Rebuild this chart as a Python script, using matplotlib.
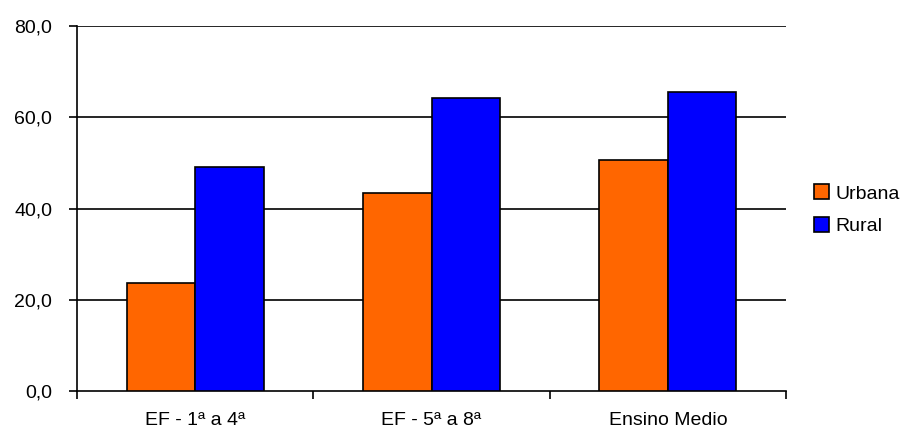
import numpy as np
import matplotlib.pyplot as plt
from matplotlib.ticker import FixedLocator, FuncFormatter

plt.rcParams['font.family'] = ['Liberation Sans', 'DejaVu Sans']

categories = ['EF - 1ª a 4ª', 'EF - 5ª a 8ª', 'Ensino Medio']
urbana = [23.6, 43.3, 50.7]
rural = [49.0, 64.3, 65.5]
yticks = [0, 20, 40, 60, 80]

fig = plt.figure(figsize=(9.02, 4.30), dpi=100)
ax = fig.add_axes([0.0854, 0.0907, 0.786, 0.8488])

x = np.arange(len(categories))
w = 0.29
ax.bar(x - w/2, urbana, w, color='#ff6600', edgecolor='black', linewidth=1.2,
       label='Urbana', zorder=3)
ax.bar(x + w/2, rural, w, color='#0000ff', edgecolor='black', linewidth=1.2,
       label='Rural', zorder=3)

ax.set_xlim(-0.5, len(categories) - 0.5)
ax.set_ylim(0, 80)
ax.set_yticks(yticks)
ax.yaxis.set_major_formatter(FuncFormatter(lambda v, p: f'{v:.1f}'.replace('.', ',')))
for v in yticks[1:]:
    ax.axhline(v, color='black', linewidth=1.2, zorder=1)

ax.xaxis.set_major_locator(FixedLocator(np.arange(-0.5, len(categories), 1.0)))
ax.xaxis.set_major_formatter(FuncFormatter(lambda v, p: ''))
ax.set_xticks(x, minor=True)
ax.set_xticklabels(categories, minor=True)
ax.tick_params(axis='x', which='minor', length=0, pad=15, labelsize=14)
ax.tick_params(axis='x', which='major', length=6, width=1.2, direction='out')
ax.tick_params(axis='y', length=6, width=1.2, direction='out', labelsize=14, pad=12)

for s in ['top', 'right']:
    ax.spines[s].set_visible(False)
ax.spines['left'].set_linewidth(1.2)
ax.spines['bottom'].set_linewidth(1.2)

ax.legend(loc='center left', bbox_to_anchor=(1.039, 0.496), frameon=False,
          borderpad=0, borderaxespad=0,
          fontsize=14, handlelength=0.8, handleheight=0.8, handletextpad=0.3,
          labelspacing=0.75)

fig.savefig('out.png', dpi=100)
